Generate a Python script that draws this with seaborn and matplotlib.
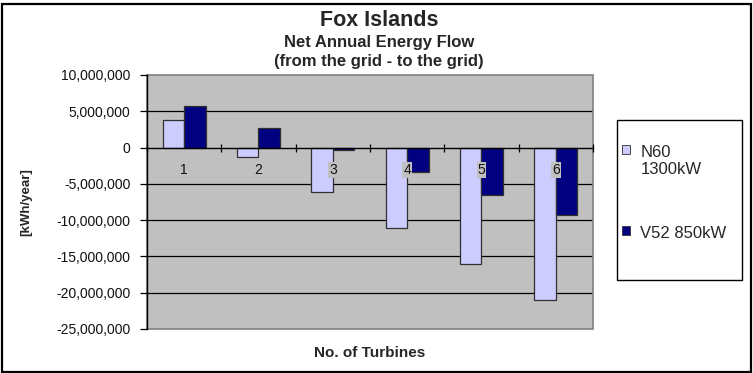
import matplotlib
matplotlib.use("Agg")
import matplotlib.pyplot as plt
from matplotlib.patches import Rectangle
from matplotlib.ticker import FuncFormatter
import numpy as np
import pandas as pd
import seaborn as sns

# Net annual energy flow per number of turbines
turbines = ["1", "2", "3", "4", "5", "6"]
n60_1300kw = [3_800_000, -1_300_000, -6_100_000, -11_050_000, -16_100_000, -21_000_000]
v52_850kw = [5_700_000, 2_750_000, -300_000, -3_400_000, -6_500_000, -9_300_000]
series_names = ["N60\n1300kW", "V52 850kW"]
y_ticks = [10_000_000, 5_000_000, 0, -5_000_000, -10_000_000,
           -15_000_000, -20_000_000, -25_000_000]

df = pd.DataFrame({
    "turbines": turbines * 2,
    "energy": n60_1300kw + v52_850kw,
    "model": [series_names[0]] * len(turbines) + [series_names[1]] * len(turbines),
})

sns.set_theme(style="white")
plt.rcParams["font.family"] = ["Liberation Sans", "DejaVu Sans"]

fig = plt.figure(figsize=(7.53, 3.73), dpi=100)
fig.patch.set_facecolor("white")
ax = fig.add_axes([0.1952, 0.118, 0.5923, 0.681])
ax.set_facecolor("#C0C0C0")
ax.set_axisbelow(False)

palette = {series_names[0]: "#CCCCFF", series_names[1]: "#000080"}
sns.barplot(data=df, x="turbines", y="energy", hue="model", order=turbines,
            hue_order=series_names, palette=palette, width=0.575, dodge=True,
            edgecolor="#303030", linewidth=0.9, saturation=1.0, ax=ax,
            zorder=1)

ax.set_xlim(-0.5, len(turbines) - 0.5)
ax.set_ylim(y_ticks[-1], y_ticks[0])
ax.set_yticks(y_ticks)
ax.yaxis.set_major_formatter(FuncFormatter(lambda v, p: f"{int(v):,}"))

# horizontal gridlines behind the bars
for v in y_ticks[1:-1]:
    if v != 0:
        ax.axhline(v, color="black", lw=0.9, zorder=0.5)

# category axis sits at zero, ticks between categories
ax.spines["bottom"].set_position(("data", 0))
ax.spines["bottom"].set_color("black")
ax.spines["bottom"].set_linewidth(1.0)
ax.spines["left"].set_color("black")
ax.spines["left"].set_linewidth(1.0)
for s in ("top", "right"):
    ax.spines[s].set_visible(False)
# plot-area border (top / right / bottom)
ax.add_patch(Rectangle((0, 0), 1, 1, transform=ax.transAxes, fill=False,
                       edgecolor="#808080", lw=1.2, zorder=0.6, clip_on=False))

ax.set_xticks(np.arange(-0.5, len(turbines), 1.0), minor=True)
ax.tick_params(axis="x", which="minor", direction="inout", length=6,
               width=0.9, color="black", bottom=True)
ax.tick_params(axis="x", which="major", length=0, pad=11, labelsize=10,
               labelcolor="#111111")
for lab in ax.get_xticklabels():
    lab.set_bbox(dict(facecolor="#C0C0C0", edgecolor="none", pad=0.6))
ax.tick_params(axis="y", which="major", direction="out", length=5, width=0.9,
               color="black", left=True, labelsize=10, pad=7,
               labelcolor="#111111")

ax.set_xlabel("")
ax.set_ylabel("[kWh/year]", fontsize=9.5, fontweight="bold")
ax.yaxis.set_label_coords(-0.258, 0.5)
fig.text(0.4914, 0.0544, "No. of Turbines", ha="center", va="center",
         fontsize=11, fontweight="bold")

# titles
fig.text(0.503, 0.946, "Fox Islands", ha="center", va="center",
         fontsize=15.5, fontweight="bold")
fig.text(0.503, 0.887, "Net Annual Energy Flow", ha="center", va="center",
         fontsize=12, fontweight="bold")
fig.text(0.503, 0.834, "(from the grid - to the grid)", ha="center",
         va="center", fontsize=12, fontweight="bold")

# legend outside the plot area, framed separately
handles, labels = ax.get_legend_handles_labels()
ax.legend_.remove()
leg = fig.legend(handles, labels, loc="upper left",
                 bbox_to_anchor=(622 / 753, 1 - 145 / 373), frameon=False,
                 fontsize=12, handlelength=0.45, handleheight=0.45,
                 handletextpad=0.65, labelspacing=2.9, borderpad=0,
                 borderaxespad=0)
for h in leg.legend_handles:
    h.set_edgecolor("#303030")
    h.set_linewidth(0.6)
# keep each legend marker beside the first line of its label
try:
    for col in leg._legend_handle_box.get_children():
        for row in col.get_children():
            row.align = "top"
except AttributeError:
    pass
fig.add_artist(Rectangle((617 / 753, 1 - 280 / 373), 125 / 753, 160 / 373,
                         transform=fig.transFigure, fill=False,
                         edgecolor="black", lw=1.0))

# outer chart border
fig.add_artist(Rectangle((1.5 / 753, 1.5 / 373), 749.5 / 753, 368 / 373,
                         transform=fig.transFigure, fill=False,
                         edgecolor="black", lw=1.6))

fig.savefig("out.png", dpi=100, facecolor="white")
